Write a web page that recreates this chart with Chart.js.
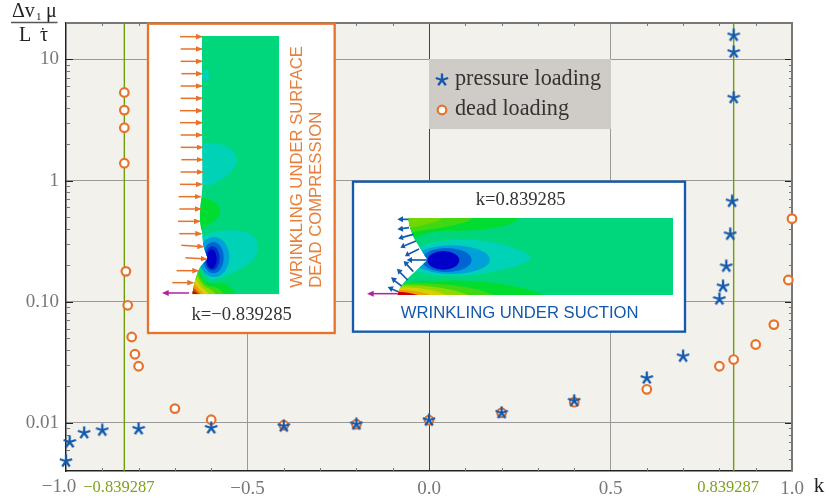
<!DOCTYPE html>
<html>
<head>
<meta charset="utf-8">
<title>wrinkling</title>
<script src="https://cdn.jsdelivr.net/npm/chart.js@4/dist/chart.umd.min.js"></script>
<style>
	html, body { margin: 0; padding: 0; background: #fff; }
	#wrap { position: relative; width: 829px; height: 502px; overflow: hidden; }
	#myChart { position: absolute; left: 0; top: 0; }
	svg { position: absolute; }
	.serif { font-family: "Liberation Serif", serif; fill: #333; }
	.sans { font-family: "Liberation Sans", sans-serif; }
</style>
</head>
<body>
<div id="wrap">
	<canvas id="myChart" width="829" height="502"></canvas>

	<!-- left inset, drawn in a 3x coordinate system -->
	<svg style="left:140px;top:15px" width="200" height="325" viewBox="0 0 600 975">
		<defs>
			<clipPath id="body1"><path d="M186,63 L418,63 L418,838 L157,838 C160,815 168,785 178,760 C185,748 197,740 203,730 C197,712 192,700 190,690 C188,672 187,660 186,650 C182,635 180,620 180,605 C180,580 183,560 186,530 C188,510 188,480 187,420 L186,350 Z"/></clipPath>
			<marker id="headO" viewBox="0 0 10 10" refX="9" refY="5" markerWidth="20" markerHeight="17" orient="auto" markerUnits="userSpaceOnUse" preserveAspectRatio="none"><path d="M0,0 L10,5 L0,10 Z" fill="#e8722a"/></marker>
		</defs>
		<rect x="24" y="26" width="560" height="928" fill="#fff" stroke="#e8722a" stroke-width="7"/>
		<g clip-path="url(#body1)">
			<rect x="150" y="60" width="270" height="780" fill="#00d67c"/>
			<ellipse cx="197" cy="182" rx="11" ry="17" fill="#00d2b8"/>
			<path d="M180,390 C220,375 290,390 291,435 C291,470 230,505 205,513 C195,515 188,505 180,500 Z" fill="#00d2b8"/>
			<path d="M175,548 C215,548 240,565 240,590 C240,615 205,625 185,645 L170,645 Z" fill="#00dc30"/>
			<path d="M186,665 C210,642 300,640 330,655 C362,675 362,720 330,745 C300,765 250,790 215,795 C190,790 186,740 186,665 Z" fill="#00d2b8"/>
			<ellipse cx="222" cy="726" rx="46" ry="60" fill="#00a0d8"/>
			<ellipse cx="220" cy="728" rx="31" ry="47" fill="#0064d2"/>
			<ellipse cx="217" cy="730" rx="22" ry="36" fill="#0030c8"/>
			<ellipse cx="215" cy="732" rx="15" ry="29" fill="#0000c8"/>
			<path d="M172,760 C185,785 198,805 215,804 C245,798 275,808 286,838 L150,838 Z" fill="#00dc30"/>
			<path d="M172,765 C180,790 195,812 215,815 C230,815 245,825 252,838 L150,838 Z" fill="#40d810"/>
			<path d="M170,775 C178,795 190,815 205,820 C215,825 222,830 226,838 L150,838 Z" fill="#90d800"/>
			<path d="M165,785 C172,800 185,818 195,825 C200,830 204,834 206,838 L150,838 Z" fill="#d8d000"/>
			<path d="M160,800 C168,812 180,825 192,838 L150,838 Z" fill="#f0a000"/>
			<path d="M157,815 C165,822 175,830 181,838 L150,838 Z" fill="#e05000"/>
			<path d="M155,825 C162,828 170,833 174,838 L150,838 Z" fill="#d00000"/>
		</g>
		<g stroke="#e8722a" stroke-width="4.5" marker-end="url(#headO)">
			<line x1="120" y1="65" x2="186" y2="65"/><line x1="122" y1="102" x2="186" y2="102"/>
			<line x1="122" y1="139" x2="186" y2="139"/><line x1="124" y1="176" x2="186" y2="176"/>
			<line x1="122" y1="213" x2="186" y2="213"/><line x1="122" y1="250" x2="186" y2="250"/>
			<line x1="120" y1="287" x2="186" y2="287"/><line x1="120" y1="323" x2="186" y2="323"/>
			<line x1="122" y1="360" x2="186" y2="360"/><line x1="122" y1="397" x2="188" y2="397"/>
			<line x1="124" y1="434" x2="188" y2="434"/><line x1="122" y1="471" x2="188" y2="471"/>
			<line x1="120" y1="508" x2="186" y2="508"/><line x1="116" y1="545" x2="182" y2="545"/>
			<line x1="118" y1="582" x2="182" y2="582"/><line x1="114" y1="619" x2="180" y2="619"/>
			<line x1="118" y1="656" x2="184" y2="656"/><line x1="124" y1="691" x2="190" y2="695"/>
			<line x1="136" y1="728" x2="200" y2="732"/><line x1="110" y1="767" x2="175" y2="767"/>
			<line x1="97" y1="803" x2="160" y2="803"/>
		</g>
		<line x1="147" y1="834" x2="78" y2="834" stroke="#b020a0" stroke-width="4.5"/>
		<path d="M66,834 L86,825 L86,843 Z" fill="#b020a0"/>
		<text class="sans" transform="translate(486,818) rotate(-90)" font-size="50" fill="#e8803c">WRINKLING UNDER SURFACE</text>
		<text class="sans" transform="translate(543,818) rotate(-90)" font-size="50" fill="#e8803c">DEAD COMPRESSION</text>
		<text class="serif" x="305" y="914" font-size="56" text-anchor="middle">k=−0.839285</text>
	</svg>

	<!-- right inset -->
	<svg style="left:345px;top:175px" width="345" height="160" viewBox="0 0 1035 480">
		<defs>
			<clipPath id="body2"><path d="M190,129 L984,129 L984,360 L157,360 C162,340 175,320 205,295 L248,255 C235,235 222,215 212,198 C200,180 193,155 190,129 Z"/></clipPath>
		</defs>
		<rect x="24" y="20" width="996" height="450" fill="#fff" stroke="#1359ad" stroke-width="7"/>
		<g clip-path="url(#body2)">
			<rect x="150" y="125" width="840" height="240" fill="#00d67c"/>
			<path d="M180,129 L522,129 C500,160 400,168 300,168 C270,168 240,175 210,190 Z" fill="#00dc30"/>
			<path d="M180,129 L382,129 C360,150 300,155 200,172 Z" fill="#40d810"/>
			<path d="M180,129 L292,129 C280,140 240,150 195,158 Z" fill="#70d800"/>
			<path d="M215,220 C260,190 400,185 480,210 C530,225 555,240 560,250 C550,265 480,285 420,295 C350,310 260,305 215,290 Z" fill="#00d2b8"/>
			<ellipse cx="320" cy="254" rx="115" ry="43" fill="#00a0d8"/>
			<ellipse cx="305" cy="255" rx="75" ry="36" fill="#0064d2"/>
			<ellipse cx="295" cy="256" rx="48" ry="28" fill="#0000c8"/>
			<path d="M190,322 C300,310 500,315 595,360 L150,360 Z" fill="#00dc30"/>
			<path d="M180,325 C280,322 380,330 445,360 L150,360 Z" fill="#40d810"/>
			<path d="M172,330 C250,330 320,340 370,360 L150,360 Z" fill="#90d800"/>
			<path d="M165,337 C220,337 270,345 305,360 L150,360 Z" fill="#d8d000"/>
			<path d="M160,345 C195,345 230,350 255,360 L150,360 Z" fill="#f0a000"/>
			<path d="M157,350 C180,350 200,354 218,360 L150,360 Z" fill="#d00000"/>
		</g>
		<g stroke="#1359ad" stroke-width="5">
			<line x1="190" y1="133" x2="170" y2="133"/><path d="M157,133 L174,124 L174,142 Z" fill="#1359ad" stroke="none"/>
			<line x1="192" y1="158" x2="170" y2="161"/><path d="M157,163 L172,152 L175,170 Z" fill="#1359ad" stroke="none"/>
			<line x1="205" y1="178" x2="172" y2="187"/><path d="M160,191 L171,178 L176,195 Z" fill="#1359ad" stroke="none"/>
			<line x1="213" y1="198" x2="178" y2="212"/><path d="M166,218 L175,203 L182,220 Z" fill="#1359ad" stroke="none"/>
			<line x1="222" y1="222" x2="190" y2="238"/><path d="M180,244 L187,228 L195,244 Z" fill="#1359ad" stroke="none"/>
			<line x1="248" y1="255" x2="198" y2="255"/><path d="M185,255 L201,246 L201,264 Z" fill="#1359ad" stroke="none"/>
			<line x1="205" y1="290" x2="185" y2="268"/><path d="M176,258 L193,262 L180,275 Z" fill="#1359ad" stroke="none"/>
			<line x1="188" y1="315" x2="165" y2="292"/><path d="M156,281 L173,286 L160,299 Z" fill="#1359ad" stroke="none"/>
			<line x1="170" y1="333" x2="148" y2="317"/><path d="M138,307 L156,310 L145,325 Z" fill="#1359ad" stroke="none"/>
			<line x1="160" y1="350" x2="140" y2="342"/><path d="M128,336 L146,334 L139,351 Z" fill="#1359ad" stroke="none"/>
		</g>
		<line x1="157" y1="356" x2="78" y2="356" stroke="#b020a0" stroke-width="4.5"/>
		<path d="M66,356 L86,347 L86,365 Z" fill="#b020a0"/>
		<text class="serif" x="527" y="91" font-size="56" text-anchor="middle">k=0.839285</text>
		<text class="sans" x="524" y="430" font-size="50" text-anchor="middle" fill="#1359ad">WRINKLING UNDER SUCTION</text>
	</svg>
</div>

<script>
(function(){

	"use strict";

	// dead loading
	const deadK = [-0.839287,-0.839287,-0.839287,-0.839287,-0.835,-0.83,-0.819,-0.81,-0.8,-0.7,-0.6,-0.4,-0.2,0,0.2,0.4,0.6,0.8,0.839287,0.9,0.95,0.99,1];
	const deadV = [5.34,3.82,2.73,1.39,0.178,0.0934,0.0511,0.0368,0.0293,0.0131,0.0106,0.00955,0.00973,0.0105,0.0121,0.0148,0.0189,0.0293,0.0333,0.0443,0.0647,0.151,0.485];

	// pressure loading
	const pressK = [-1,-0.99,-0.95,-0.9,-0.8,-0.6,-0.4,-0.2,0,0.2,0.4,0.6,0.7,0.8,0.81,0.819,0.83,0.835,0.839287,0.839287,0.839287];
	const pressV = [0.00482,0.00695,0.00826,0.00869,0.00891,0.00908,0.00938,0.00973,0.0105,0.0121,0.0152,0.0234,0.0354,0.105,0.134,0.196,0.36,0.673,4.83,11.5,15.8];

	// critical values (green lines)
	const critK = [-0.839287,0.839287];
	const critLabels = ["−0.839287","0.839287"];

	// axes
	const xMin = -1, xMax = 1, yMin = 0.004, yMax = 20;
	const xTicks = [-1,-0.5,0,0.5,1];
	const xTickLabels = ["","−0.5","0.0","0.5","1.0"];
	const xMinorTicks = [-0.9,-0.8,-0.7,-0.6,-0.4,-0.3,-0.2,-0.1,0.1,0.2,0.3,0.4,0.6,0.7,0.8,0.9];
	const yTicks = [0.01,0.1,1,10];
	const yTickLabels = ["0.01","0.10","1","10"];
	const yMinorTicks = [0.005,0.006,0.007,0.008,0.009,0.02,0.03,0.04,0.05,0.06,0.07,0.08,0.09,0.2,0.3,0.4,0.5,0.6,0.7,0.8,0.9,2,3,4,5,6,7,8,9];

	const legendLabels = ["pressure loading","dead loading"];

	const blue = "#1359ad";
	const orange = "#e8722a";
	const green = "#6f9e0a";
	const serif = '"Liberation Serif", serif';

	// the five armed asterisk marker
	function makeStar(size){
		const c = document.createElement("canvas");
		c.width = size;
		c.height = size;
		const g = c.getContext("2d");
		g.strokeStyle = blue;
		g.lineWidth = 2.3;
		g.translate(size/2,size/2);
		for(let i=0;i<5;i++){
			g.beginPath();
			g.moveTo(0,0);
			g.lineTo(0,-size/2+0.5);
			g.stroke();
			g.rotate(Math.PI*2/5);
		}
		return c;
	}
	const star = makeStar(14);

	// plot background, inner ticks, frame, and the labels the ticks can't do
	const framePlugin = {
		id: "frame",
		beforeDraw(chart){
			const a = chart.chartArea, ctx = chart.ctx;
			ctx.save();
			ctx.fillStyle = "#f3f1ec";
			ctx.fillRect(a.left,a.top,a.width,a.height);
			ctx.restore();
		},
		beforeDatasetsDraw(chart){
			const a = chart.chartArea, ctx = chart.ctx;
			const xs = chart.scales.x, ys = chart.scales.y;
			ctx.save();
			ctx.lineWidth = 1;
			// minor ticks
			ctx.strokeStyle = "#777";
			ctx.beginPath();
			xMinorTicks.forEach(function(v){
				const px = Math.round(xs.getPixelForValue(v))+0.5;
				ctx.moveTo(px,a.bottom); ctx.lineTo(px,a.bottom-3);
				ctx.moveTo(px,a.top); ctx.lineTo(px,a.top+3);
			});
			yMinorTicks.forEach(function(v){
				const py = Math.round(ys.getPixelForValue(v))+0.5;
				ctx.moveTo(a.left,py); ctx.lineTo(a.left+4,py);
				ctx.moveTo(a.right,py); ctx.lineTo(a.right-3,py);
			});
			ctx.stroke();
			// major ticks
			ctx.strokeStyle = "#222";
			ctx.beginPath();
			yTicks.forEach(function(v){
				const py = Math.round(ys.getPixelForValue(v))+0.5;
				ctx.moveTo(a.left,py); ctx.lineTo(a.left+7,py);
				ctx.moveTo(a.right,py); ctx.lineTo(a.right-7,py);
			});
			ctx.stroke();
			// top and right of the frame
			ctx.strokeStyle = "#777";
			ctx.lineWidth = 2;
			ctx.beginPath();
			ctx.moveTo(a.left,a.top); ctx.lineTo(a.right,a.top); ctx.lineTo(a.right,a.bottom);
			ctx.stroke();
			ctx.restore();
		},
		afterDraw(chart){
			const ctx = chart.ctx, a = chart.chartArea;
			const xs = chart.scales.x;
			ctx.save();
			ctx.textBaseline = "alphabetic";
			ctx.textAlign = "center";

			// tick labels moved aside so they don't collide
			ctx.font = "19px "+serif;
			ctx.fillStyle = "#777";
			ctx.fillText("−1.0",xs.getPixelForValue(xMin)-7,a.bottom+21);
			ctx.font = "16.5px "+serif;
			ctx.fillStyle = "#7ea21c";
			critK.forEach(function(v,i){
				ctx.fillText(critLabels[i],xs.getPixelForValue(v)-5.5,a.bottom+21);
			});
			ctx.font = "21px "+serif;
			ctx.fillStyle = "#222";
			ctx.fillText("k",819,a.bottom+21);

			// legend
			ctx.fillStyle = "#cfcbc6";
			ctx.fillRect(429,59,182,70);
			ctx.drawImage(star,435,73);
			ctx.beginPath();
			ctx.arc(442,110,4.3,0,Math.PI*2);
			ctx.fillStyle = "#fff";
			ctx.fill();
			ctx.strokeStyle = orange;
			ctx.lineWidth = 2.2;
			ctx.stroke();
			ctx.textAlign = "left";
			ctx.fillStyle = "#333";
			ctx.font = "22.2px "+serif;
			ctx.fillText(legendLabels[0],455,85);
			ctx.fillText(legendLabels[1],455,115);

			// axis title as a fraction
			ctx.fillStyle = "#222";
			ctx.font = "20px "+serif;
			ctx.fillText("Δv",12,17);
			ctx.fillText("μ",46,17);
			ctx.fillText("L",19,41);
			ctx.fillText("τ",40,41);
			ctx.fillRect(42,28,1.6,1.6);
			ctx.font = "11px "+serif;
			ctx.fillText("1",36,20);
			ctx.strokeStyle = "#555";
			ctx.lineWidth = 1.5;
			ctx.beginPath();
			ctx.moveTo(11,22.5); ctx.lineTo(57.5,22.5);
			ctx.stroke();
			ctx.restore();
		}
	};

	function toPoints(xs,ys){
		return xs.map(function(x,i){ return {x:x,y:ys[i]}; });
	}

	const config = {
		type: "scatter",
		data: {
			datasets: [
				{
					label: legendLabels[0],
					data: toPoints(pressK,pressV),
					pointStyle: star,
					order: 0,
					clip: false
				},
				{
					label: legendLabels[1],
					data: toPoints(deadK,deadV),
					pointStyle: "circle",
					pointRadius: 4.3,
					pointBorderWidth: 2.2,
					pointBorderColor: orange,
					pointBackgroundColor: "#fff",
					order: 1,
					clip: false
				},
				{
					label: "left critical",
					data: toPoints([critK[0],critK[0]],[yMin,yMax]),
					showLine: true,
					borderColor: green,
					borderWidth: 1.4,
					pointRadius: 0,
					order: 2
				},
				{
					label: "right critical",
					data: toPoints([critK[1],critK[1]],[yMin,yMax]),
					showLine: true,
					borderColor: green,
					borderWidth: 1.4,
					pointRadius: 0,
					order: 2
				}
			]
		},
		options: {
			responsive: false,
			animation: false,
			layout: { padding: { top: 23, right: 37, left: 0, bottom: 0 } },
			plugins: { legend: { display: false }, tooltip: { enabled: false } },
			scales: {
				x: {
					type: "linear",
					min: xMin,
					max: xMax,
					afterBuildTicks: function(s){ s.ticks = xTicks.map(function(v){ return {value:v}; }); },
					afterFit: function(s){ s.height = 31; },
					border: { color: "#222", width: 1.5 },
					grid: {
						drawTicks: false,
						color: function(c){
							if (c.tick.value === 0) return "#444";
							if (c.tick.value === -0.5 || c.tick.value === 0.5) return "#999";
							return "rgba(0,0,0,0)";
						}
					},
					ticks: {
						autoSkip: false,
						maxRotation: 0,
						padding: 7,
						color: "#777",
						font: { family: serif, size: 19 },
						callback: function(v){ return xTickLabels[xTicks.indexOf(v)]; }
					}
				},
				y: {
					type: "logarithmic",
					min: yMin,
					max: yMax,
					afterBuildTicks: function(s){ s.ticks = yTicks.map(function(v){ return {value:v}; }); },
					afterFit: function(s){ s.width = 66; },
					border: { color: "#222", width: 1.5 },
					grid: { drawTicks: false, color: "#999" },
					ticks: {
						autoSkip: false,
						padding: 7,
						color: "#777",
						font: { family: serif, size: 19 },
						callback: function(v){ return yTickLabels[yTicks.indexOf(v)]; }
					}
				}
			}
		},
		plugins: [framePlugin]
	};

	new Chart(document.getElementById("myChart"),config);

})();
</script>
</body>
</html>
